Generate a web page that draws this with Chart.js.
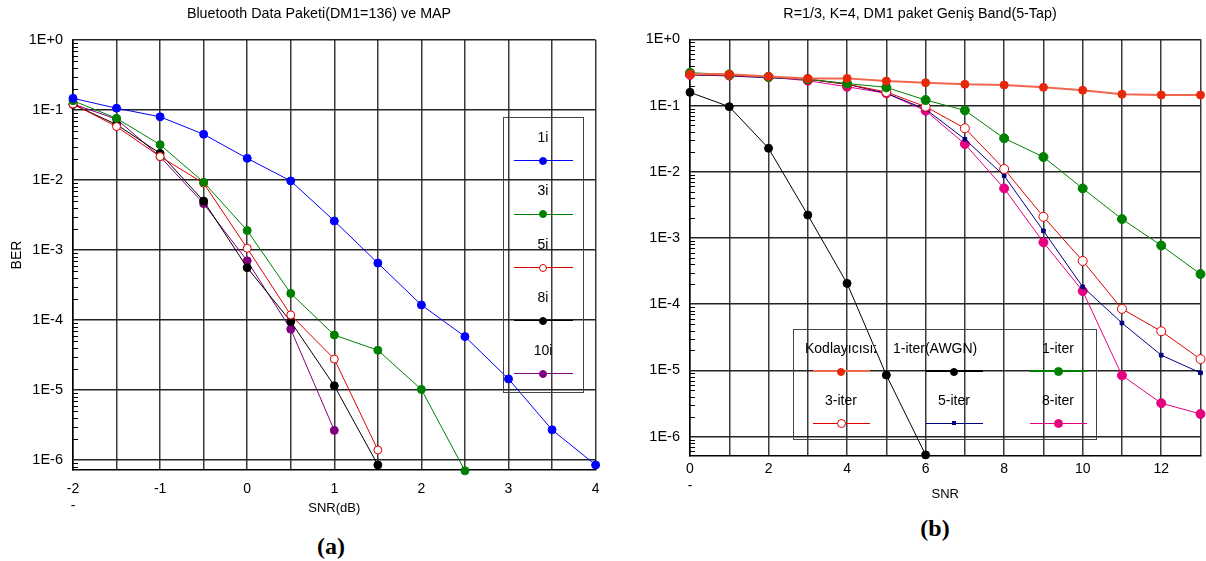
<!DOCTYPE html>
<html>
<head>
<meta charset="utf-8">
<script src="https://cdn.jsdelivr.net/npm/chart.js@4.4.1/dist/chart.umd.min.js"></script>
<style>
  html,body{margin:0;padding:0;background:#fff;}
  body{width:1206px;height:561px;position:relative;overflow:hidden;font-family:"Liberation Sans",Arial,sans-serif;color:#000;}
  .txt{position:absolute;white-space:nowrap;transform:translate(-50%,-50%);line-height:1;}
  .cap{font-family:"Liberation Serif","Times New Roman",serif;font-weight:bold;font-size:24px;}
  .lgbox{position:absolute;border:1.5px solid #444;box-sizing:border-box;}
  .lglab{position:absolute;white-space:nowrap;overflow:hidden;font-size:14px;line-height:16px;height:16px;}
  .lgline{position:absolute;height:0;}
  .lgmark{position:absolute;box-sizing:border-box;}
</style>
</head>
<body>
<canvas id="ca" width="610" height="520" style="position:absolute;left:0;top:0;width:610px;height:520px"></canvas>
<canvas id="cb" width="596" height="510" style="position:absolute;left:610px;top:0;width:596px;height:510px"></canvas>
<script>
// ---------------- DATA ----------------
// Chart (a)
const titleA = 'Bluetooth Data Paketi(DM1=136) ve MAP';
const snrA = [-2, -1.5, -1, -0.5, 0, 0.5, 1, 1.5, 2, 2.5, 3, 3.5, 4];
const ber1i  = [0.147, 0.106, 0.080, 0.045, 0.0204, 0.0097, 0.0026, 6.5e-4, 1.64e-4, 5.8e-5, 1.44e-5, 2.7e-6, 8.5e-7];
const ber3i  = [0.136, 0.076, 0.032, 0.0093, 0.0019, 2.4e-4, 6.1e-5, 3.7e-5, 1.02e-5, 7.0e-7];
const ber5i  = [0.122, 0.058, 0.0216, 0.0090, 1.06e-3, 1.18e-4, 2.77e-5, 1.39e-6];
const ber8i  = [0.120, 0.062, 0.024, 0.0050, 5.6e-4, 9.5e-5, 1.15e-5, 8.5e-7];
const ber10i = [0.122, 0.074, 0.0216, 0.0046, 7.0e-4, 7.4e-5, 2.65e-6];
const labelsA = ['1i', '3i', '5i', '8i', '10i'];
const xTickValuesA = [-2, -1, 0, 1, 2, 3, 4];
const xTickLabelsA = [['-2', '-'], '-1', '0', '1', '2', '3', '4'];

// Chart (b)
const titleB = 'R=1/3, K=4, DM1 paket Geniş Band(5-Tap)';
const snrB = [0, 1, 2, 3, 4, 5, 6, 7, 8, 9, 10, 11, 12, 13];
const berUncoded = [0.300, 0.296, 0.275, 0.257, 0.257, 0.234, 0.221, 0.209, 0.204, 0.188, 0.170, 0.148, 0.144, 0.144];
const berAwgn    = [0.158, 0.096, 0.0226, 2.22e-3, 2.06e-4, 8.5e-6, 5.3e-7];
const berIter1   = [0.313, 0.295, 0.270, 0.250, 0.215, 0.188, 0.121, 0.0845, 0.032, 0.0167, 5.6e-3, 1.93e-3, 7.7e-4, 2.85e-4];
const berIter3   = [0.295, 0.285, 0.270, 0.250, 0.210, 0.160, 0.096, 0.0453, 0.011, 2.09e-3, 4.5e-4, 8.5e-5, 3.9e-5, 1.48e-5];
const berIter5   = [0.290, 0.280, 0.262, 0.249, 0.209, 0.153, 0.088, 0.031, 8.7e-3, 1.28e-3, 1.83e-4, 5.2e-5, 1.7e-5, 9.2e-6];
const berIter8   = [0.290, 0.285, 0.268, 0.237, 0.192, 0.153, 0.0835, 0.0262, 5.6e-3, 8.6e-4, 1.58e-4, 8.4e-6, 3.2e-6, 2.2e-6];
const labelsB = ['Kodlayıcısız', '1-iter(AWGN)', '1-iter', '3-iter', '5-iter', '8-iter'];
const xTickValuesB = [0, 2, 4, 6, 8, 10, 12];
const xTickLabelsB = [['0', '-'], '2', '4', '6', '8', '10', '12'];

// Shared log axis ticks
const yTickValues = [1, 1e-1, 1e-2, 1e-3, 1e-4, 1e-5, 1e-6];
const yTickLabels = ['1E+0', '1E-1', '1E-2', '1E-3', '1E-4', '1E-5', '1E-6'];

// ---------------- RENDERING ----------------
const FONT = '"Liberation Sans", Arial, sans-serif';
Chart.defaults.font.family = FONT;
Chart.defaults.color = '#000';

function series(xs, ys) { return ys.map((y, i) => ({ x: xs[i], y: y })); }

function ds(label, xs, ys, st) {
  return Object.assign({
    label: label,
    data: series(xs, ys),
    borderWidth: 1,
    pointRadius: 4,
    pointHoverRadius: 4,
    pointBorderWidth: 1,
    pointStyle: 'circle',
    tension: 0,
    clip: false
  }, st);
}

const minorTicks = {
  id: 'minorTicks',
  beforeDatasetsDraw(chart) {
    const y = chart.scales.y, ctx = chart.ctx, a = chart.chartArea;
    ctx.save();
    ctx.strokeStyle = '#000';
    ctx.lineWidth = 1;
    for (let e = -7; e < 0; e++) {
      for (let m = 2; m < 10; m++) {
        const v = m * Math.pow(10, e);
        if (v < y.min || v > y.max) continue;
        const py = Math.round(y.getPixelForValue(v)) + 0.5;
        ctx.beginPath();
        ctx.moveTo(a.left, py);
        ctx.lineTo(a.left + 5, py);
        ctx.stroke();
      }
    }
    ctx.restore();
  }
};

function makeOptions(cfg) {
  return {
    responsive: false,
    animation: false,
    devicePixelRatio: 1,
    layout: { padding: cfg.padding },
    plugins: { legend: { display: false }, title: { display: false }, tooltip: { enabled: false } },
    scales: {
      x: {
        type: 'linear',
        min: cfg.xMin, max: cfg.xMax,
        afterBuildTicks(s) {
          const t = [];
          for (let v = cfg.xMin; v <= cfg.xMax + 1e-9; v += cfg.xStep) t.push({ value: Math.round(v * 100) / 100 });
          s.ticks = t;
        },
        afterFit(s) { s.height = cfg.xHeight; },
        grid: { color: '#3a3a3a', lineWidth: 1.5, drawTicks: false },
        border: { color: '#000', width: 1.5 },
        ticks: {
          autoSkip: false, maxRotation: 0, padding: cfg.xTickPad,
          font: { size: 14, lineHeight: 1.2 },
          color: '#000',
          callback(v) {
            const i = cfg.xTickValues.indexOf(v);
            return i >= 0 ? cfg.xTickLabels[i] : '';
          }
        },
        title: { display: true, text: cfg.xTitle, font: { size: 13 }, padding: 0, color: '#000' }
      },
      y: {
        type: 'logarithmic',
        min: cfg.yMin, max: 1,
        afterBuildTicks(s) { s.ticks = yTickValues.map(v => ({ value: v })); },
        afterFit(s) { s.width = cfg.yWidth; },
        grid: { color: '#222', lineWidth: 1.5, drawTicks: false },
        border: { color: '#000', width: 1.5 },
        ticks: {
          autoSkip: false, padding: 10,
          font: { size: 14.5 },
          color: '#000',
          callback(v) {
            const i = yTickValues.findIndex(t => Math.abs(Math.log10(t) - Math.log10(v)) < 1e-6);
            return i >= 0 ? yTickLabels[i] : '';
          }
        },
        title: cfg.yTitle ? { display: true, text: cfg.yTitle, font: { size: 14 }, padding: { top: 8.6, bottom: 0 }, color: '#000' } : { display: false }
      }
    }
  };
}

// ----- Chart A -----
const stylesA = [
  { borderColor: '#0000ff', backgroundColor: '#0000ff', pointBackgroundColor: '#0000ff', pointBorderColor: '#0000ff' },
  { borderColor: '#008000', backgroundColor: '#008000', pointBackgroundColor: '#008000', pointBorderColor: '#008000' },
  { borderColor: '#e00000', backgroundColor: '#e00000', pointBackgroundColor: '#ffffff', pointBorderColor: '#e00000' },
  { borderColor: '#000000', backgroundColor: '#000000', pointBackgroundColor: '#000000', pointBorderColor: '#000000' },
  { borderColor: '#800080', backgroundColor: '#800080', pointBackgroundColor: '#800080', pointBorderColor: '#800080' }
];
const seriesA = [ber1i, ber3i, ber5i, ber8i, ber10i];
const chartA = new Chart(document.getElementById('ca'), {
  type: 'line',
  data: { datasets: seriesA.map((ys, i) => ds(labelsA[i], snrA, ys, stylesA[i])) },
  options: makeOptions({
    padding: { top: 40, right: 13, bottom: 4.2, left: 0 },
    xMin: -2, xMax: 4, xStep: 0.5, xHeight: 45.8, xTickPad: 10.5,
    xTickValues: xTickValuesA, xTickLabels: xTickLabelsA, xTitle: 'SNR(dB)',
    yMin: 7.2e-7, yWidth: 73, yTitle: 'BER'
  }),
  plugins: [minorTicks]
});

// ----- Chart B -----
const stylesB = [
  { borderColor: '#f2664e', backgroundColor: '#e8280a', pointBackgroundColor: '#e8280a', pointBorderColor: '#e8280a', borderWidth: 2, pointRadius: 4 },
  { borderColor: '#000000', backgroundColor: '#000000', pointBackgroundColor: '#000000', pointBorderColor: '#000000' },
  { borderColor: '#008000', backgroundColor: '#008000', pointBackgroundColor: '#008000', pointBorderColor: '#008000', pointRadius: 4.5 },
  { borderColor: '#e00000', backgroundColor: '#e00000', pointBackgroundColor: '#ffffff', pointBorderColor: '#e00000', pointRadius: 4.5 },
  { borderColor: '#000080', backgroundColor: '#000080', pointBackgroundColor: '#000080', pointBorderColor: '#000080', pointStyle: 'rect', pointRadius: 2.6 },
  { borderColor: '#e6007e', backgroundColor: '#e6007e', pointBackgroundColor: '#e6007e', pointBorderColor: '#e6007e', pointRadius: 4.5 }
];
const seriesB = [berUncoded, berAwgn, berIter1, berIter3, berIter5, berIter8];
const chartB = new Chart(document.getElementById('cb'), {
  type: 'line',
  data: { datasets: seriesB.map((ys, i) => ds(labelsB[i], snrB, ys, stylesB[i])) },
  options: makeOptions({
    padding: { top: 39.3, right: 5, bottom: 8.2, left: 0 },
    xMin: 0, xMax: 13, xStep: 1, xHeight: 45.8, xTickPad: 4.5,
    xTickValues: xTickValuesB, xTickLabels: xTickLabelsB, xTitle: 'SNR',
    yMin: 5.1e-7, yWidth: 80, yTitle: null
  }),
  plugins: [minorTicks]
});

// ---------------- HTML TEXT / LEGENDS ----------------
function addText(text, cx, cy, cls, size) {
  const d = document.createElement('div');
  d.className = 'txt' + (cls ? ' ' + cls : '');
  d.textContent = text;
  d.style.left = cx + 'px';
  d.style.top = cy + 'px';
  if (size) d.style.fontSize = size + 'px';
  document.body.appendChild(d);
}
addText(titleA, 319, 13, '', 14.3);
addText(titleB, 920, 13, '', 14.3);
addText('(a)', 331, 546, 'cap');
addText('(b)', 935, 528, 'cap');

function addBox(l, t, w, h) {
  const b = document.createElement('div');
  b.className = 'lgbox';
  Object.assign(b.style, { left: l + 'px', top: t + 'px', width: w + 'px', height: h + 'px' });
  document.body.appendChild(b);
}
function addEntry(dset, mx, labelY, lineY, halfLen, lineW, labelSlot) {
  const lab = document.createElement('div');
  lab.className = 'lglab';
  lab.textContent = dset.label;
  if (labelSlot) {
    Object.assign(lab.style, { left: labelSlot[0] + 'px', width: labelSlot[1] + 'px', textAlign: 'left' });
  } else {
    Object.assign(lab.style, { left: (mx - 50) + 'px', width: '100px', textAlign: 'center' });
  }
  lab.style.top = (labelY - 8) + 'px';
  document.body.appendChild(lab);

  const ln = document.createElement('div');
  ln.className = 'lgline';
  Object.assign(ln.style, { left: (mx - halfLen) + 'px', width: (2 * halfLen) + 'px', top: (lineY - lineW / 2) + 'px', borderTop: lineW + 'px solid ' + dset.borderColor });
  document.body.appendChild(ln);

  const mk = document.createElement('div');
  mk.className = 'lgmark';
  const r = dset.pointRadius;
  const isRect = dset.pointStyle === 'rect';
  const size = isRect ? r * Math.SQRT2 : 2 * r;
  Object.assign(mk.style, {
    left: (mx - size / 2) + 'px', top: (lineY - size / 2) + 'px',
    width: size + 'px', height: size + 'px',
    background: dset.pointBackgroundColor,
    border: '1px solid ' + dset.pointBorderColor,
    borderRadius: isRect ? '0' : '50%'
  });
  document.body.appendChild(mk);
}

// legend (a): single column inside plot
addBox(503, 117, 81, 276);
chartA.data.datasets.forEach((d, i) => {
  addEntry(d, 543, 137 + i * 53.3, 161 + i * 53.3, 29.5, 1.5, null);
});

// legend (b): 3 columns x 2 rows
addBox(793, 329, 304, 111);
const colXB = [841, 954, 1058];
const rowLabelYB = [348, 400];
const rowLineYB = [371.7, 423.3];
const slotsB = [[805, 71], [893, 84], null, null, null, null];
chartB.data.datasets.forEach((d, i) => {
  const c = i % 3, r = Math.floor(i / 3);
  addEntry(d, colXB[c], rowLabelYB[r], rowLineYB[r], 28.5, r === 0 ? 2.5 : 1.2, slotsB[i]);
});
</script>
</body>
</html>
